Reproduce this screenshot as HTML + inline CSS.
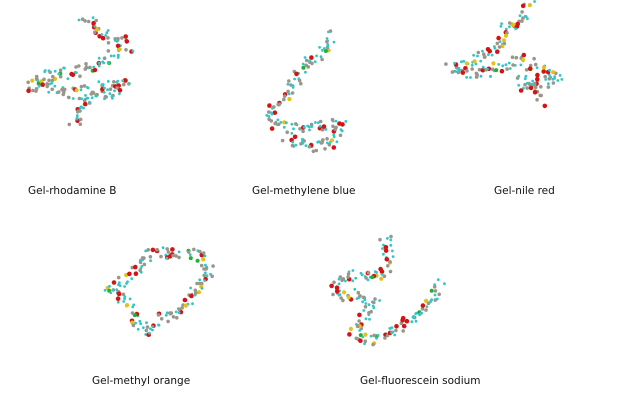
<!DOCTYPE html>
<html><head><meta charset="utf-8"><style>
html,body{margin:0;padding:0;background:#fff;}
svg{display:block}
text{font-family:"DejaVu Sans","Liberation Sans",sans-serif;font-size:10.5px;fill:#111}
</style></head><body>
<svg id="s" width="624" height="408" viewBox="0 0 624 408" xmlns="http://www.w3.org/2000/svg">
<text x="28" y="194">Gel-rhodamine B</text>
<text x="252" y="194">Gel-methylene blue</text>
<text x="494" y="194">Gel-nile red</text>
<text x="92" y="384">Gel-methyl orange</text>
<text x="360" y="384">Gel-fluorescein sodium</text>
<g id="g"></g>
</svg>
<script>
var seed=7;function r(){seed=(seed*16807)%2147483647;return seed/2147483647;}
var mols=[
 [[85,15],[100,35],[120,40],[128,48],[110,55],[95,65],[80,70],[60,75],[35,78],[30,85],[50,90],[75,95],[100,88],[125,80],[110,95],[85,100],[75,110],[75,125]],
 [[332,35],[325,50],[310,60],[300,70],[295,85],[285,95],[275,105],[272,120],[285,130],[300,125],[320,128],[340,125],[335,140],[315,148],[300,140],[285,145]],
 [[530,5],[520,20],[505,30],[500,45],[490,55],[470,60],[450,68],[470,75],[495,70],[520,60],[545,70],[558,80],[540,85],[520,80],[535,95],[540,105]],
 [[110,290],[125,280],[140,265],[150,250],[170,255],[195,255],[210,270],[200,285],[190,300],[175,310],[160,320],[150,330],[135,325],[130,310],[125,300],[108,292]],
 [[385,238],[390,255],[385,270],[370,278],[350,275],[335,290],[345,300],[360,295],[375,305],[360,320],[355,335],[370,340],[390,330],[410,320],[425,310],[435,295],[440,282]]
];
var out="";
mols.forEach(function(p){
 for(var i=0;i<p.length-1;i++){
  var a=p[i],b=p[i+1],d=Math.hypot(b[0]-a[0],b[1]-a[1]),n=Math.ceil(d/1.8);
  for(var k=0;k<n;k++){
   var t=k/n,x=a[0]+(b[0]-a[0])*t+(r()-.5)*12,y=a[1]+(b[1]-a[1])*t+(r()-.5)*12;
   var q=r(),c,rad;
   if(q<.45){c="#33c6c6";rad=1.4;}else if(q<.8){c="#9a968c";rad=1.8;}else if(q<.93){c="#d21414";rad=2.3;}else if(q<.98){c="#e2c21a";rad=2.1;}else{c="#22b030";rad=2;}
   out+='<circle cx="'+x.toFixed(1)+'" cy="'+y.toFixed(1)+'" r="'+rad+'" fill="'+c+'"/>';
  }
 }
});
document.getElementById("g").innerHTML=out;
</script>
</body></html>
